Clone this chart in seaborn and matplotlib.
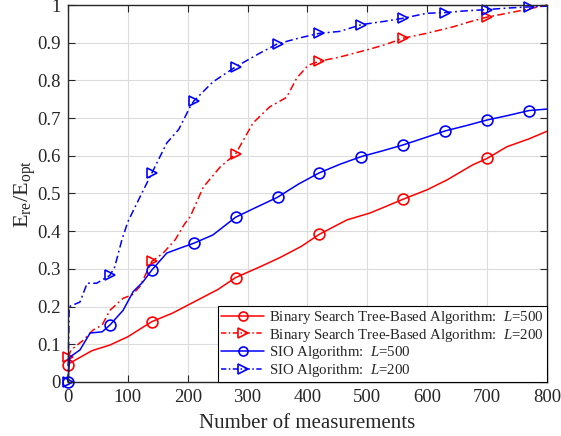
import numpy as np
import pandas as pd
import matplotlib
matplotlib.use("Agg")
import matplotlib.pyplot as plt
import seaborn as sns

# Binary Search Tree-Based Algorithm, L=500
bst500_x = [0, 3, 40, 70, 100, 140, 175, 210, 250, 280, 320, 354, 390, 420, 466, 504, 530, 560,
            600, 633, 676, 700, 733, 770, 800]
bst500_y = [0.045, 0.05, 0.083, 0.098, 0.12, 0.16, 0.183, 0.212, 0.245, 0.277, 0.305, 0.33, 0.36,
            0.392, 0.43, 0.448, 0.465, 0.485, 0.51, 0.536, 0.576, 0.593, 0.624, 0.645, 0.665]

# Binary Search Tree-Based Algorithm, L=200
bst200_x = [0, 5, 25, 42, 57, 70, 92, 107, 120, 140, 159, 179, 195, 204, 226, 254, 280, 309, 337,
            354, 365, 382, 401, 420, 454, 504, 530, 560, 599, 643, 670, 700, 740, 771, 800]
bst200_y = [0.065, 0.085, 0.11, 0.138, 0.151, 0.19, 0.222, 0.231, 0.253, 0.32, 0.342, 0.377, 0.42,
            0.438, 0.517, 0.57, 0.605, 0.687, 0.73, 0.745, 0.755, 0.806, 0.84, 0.851, 0.862, 0.883,
            0.895, 0.912, 0.925, 0.942, 0.955, 0.968, 0.98, 0.99, 1.0]

# SIO Algorithm, L=500
sio500_x = [0, 3, 20, 37, 57, 70, 92, 109, 125, 140, 165, 187, 210, 242, 280, 310, 350, 385, 420,
            455, 490, 525, 560, 600, 630, 665, 700, 735, 770, 800]
sio500_y = [0, 0.066, 0.085, 0.13, 0.133, 0.151, 0.19, 0.24, 0.265, 0.297, 0.342, 0.355, 0.368,
            0.39, 0.437, 0.46, 0.49, 0.525, 0.555, 0.578, 0.598, 0.613, 0.629, 0.65, 0.666, 0.68,
            0.695, 0.707, 0.72, 0.724]

# SIO Algorithm, L=200
sio200_x = [0, 2, 20, 32, 48, 70, 78, 90, 100, 120, 140, 165, 185, 204, 210, 242, 280, 320, 350,
            385, 420, 454, 490, 530, 560, 599, 630, 660, 700, 735, 770, 800]
sio200_y = [0, 0.2, 0.212, 0.262, 0.262, 0.283, 0.305, 0.377, 0.425, 0.49, 0.554, 0.634, 0.67,
            0.73, 0.745, 0.796, 0.836, 0.872, 0.897, 0.912, 0.925, 0.93, 0.948, 0.957, 0.965,
            0.978, 0.98, 0.984, 0.988, 0.992, 0.995, 0.997]

red_marks = [0, 140, 280, 420, 560, 700]
blue_marks = [0, 70, 140, 210, 280, 350, 420, 490, 560, 630, 700, 770]

sns.set_theme(style="whitegrid")
plt.rcParams['font.family'] = ['Liberation Serif', 'DejaVu Serif']
plt.rcParams['mathtext.fontset'] = 'custom'
plt.rcParams['mathtext.rm'] = 'Liberation Serif'
plt.rcParams['mathtext.it'] = 'Liberation Serif:italic'

fig = plt.figure(figsize=(5.61, 4.36), dpi=100)
ax = fig.add_axes([0.1212, 0.1239, 0.8538, 0.8646])
ax.set_facecolor('white')

dashdot = [5, 2.2, 1.2, 2.2]
series = [
    (bst500_x, bst500_y, 'red', '-', 'o', red_marks,
     'Binary Search Tree-Based Algorithm:  $L$=500'),
    (bst200_x, bst200_y, 'red', '-.', '>', red_marks,
     'Binary Search Tree-Based Algorithm:  $L$=200'),
    (sio500_x, sio500_y, 'blue', '-', 'o', blue_marks, 'SIO Algorithm:  $L$=500'),
    (sio200_x, sio200_y, 'blue', '-.', '>', blue_marks, 'SIO Algorithm:  $L$=200'),
]

for xs, ys, col, ls, mk, marks, lab in series:
    df = pd.DataFrame({'x': xs, 'y': ys})
    idx = [i for i, v in enumerate(xs) if v in marks and (i == 0 or xs[i - 1] != v)]
    line = sns.lineplot(data=df, x='x', y='y', sort=False, estimator=None, ax=ax, color=col,
                        linestyle='-', linewidth=1.1, marker=mk, markevery=idx, markersize=7.8,
                        markerfacecolor='none', markeredgecolor=col, markeredgewidth=1.2,
                        label=lab, clip_on=False).lines[-1]
    if ls == '-.':
        line.set_dashes(dashdot)

ax.set_xlim(0, 800)
ax.set_ylim(0, 1)
ax.set_xticks(np.arange(0, 801, 100))
ax.set_yticks(np.arange(0, 1.01, 0.1))
ax.set_yticklabels(['0', '0.1', '0.2', '0.3', '0.4', '0.5', '0.6', '0.7', '0.8', '0.9', '1'])
ax.grid(True, color='#dcdcdc', linewidth=0.8)
for s in ax.spines.values():
    s.set_color('#262626')
    s.set_linewidth(1.0)
ax.tick_params(direction='in', length=5, width=0.8, colors='#262626', labelsize=13.5,
               top=True, right=True, bottom=True, left=True, pad=5)
ax.set_xlabel('Number of measurements', fontsize=15, color='#262626', labelpad=6)
ax.set_ylabel('E$_{\\rm re}$/E$_{\\rm opt}$', fontsize=16, color='#262626', labelpad=0)

leg = ax.legend(loc='lower right', fontsize=10.7, frameon=True, fancybox=False,
                borderaxespad=0, handlelength=2.9, handletextpad=0.35, labelspacing=0.05,
                borderpad=0.2)
leg.get_frame().set_edgecolor('black')
leg.get_frame().set_linewidth(0.8)
leg.get_frame().set_alpha(1)
for h, (_, _, _, ls, _, _, _) in zip(leg.legend_handles, series):
    h.set_markersize(6.5)
    if ls == '-.':
        h.set_dashes([3.5, 1.6, 1.0, 1.6])

fig.savefig('out.png', dpi=100)
